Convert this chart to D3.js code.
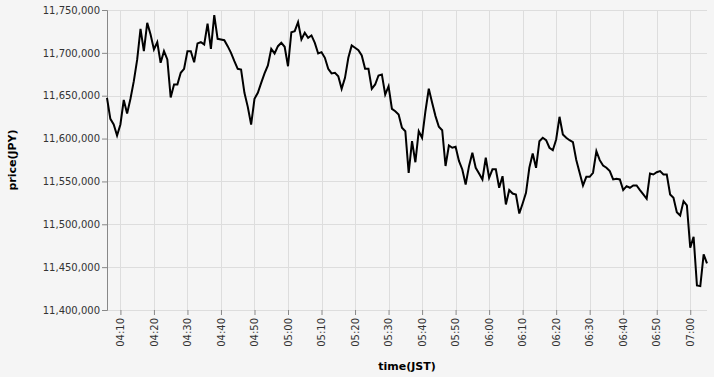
<!DOCTYPE html>
<html>
<head>
<meta charset="utf-8">
<script src="https://cdn.jsdelivr.net/npm/d3@7"></script>
<style>
  html, body { margin: 0; padding: 0; background: #f5f5f5; }
  svg { display: block; font-family: "DejaVu Sans", sans-serif; }
</style>
</head>
<body>
<svg id="chart" width="714" height="377"></svg>
<script>
// ---- data ----
const startTime = "04:06";   // first sample, samples are one minute apart
const prices = [
  11647500, 11623000, 11616400, 11603600, 11616500, 11645000, 11629300, 11646400, 11667000, 11692000,
  11728000, 11702000, 11735000, 11721400, 11704000, 11712400, 11688400, 11702000, 11692300, 11648000,
  11663000, 11663000, 11676700, 11681400, 11702000, 11702000, 11689100, 11711000, 11712400, 11709800,
  11734200, 11704700, 11744000, 11716400, 11715600, 11714800, 11707800, 11700000, 11690300, 11681400,
  11680600, 11653400, 11637000, 11616400, 11646400, 11653400, 11665000, 11676000, 11685300, 11704700,
  11699300, 11707800, 11711700, 11707100, 11684400, 11724100, 11725300, 11735800, 11715600, 11723400,
  11717600, 11720300, 11711700, 11699300, 11700800, 11694200, 11681400, 11676000, 11676700, 11672800,
  11658100, 11670900, 11694200, 11708600, 11705900, 11703100, 11696900, 11681400, 11681400, 11658100,
  11663100, 11673600, 11674800, 11651400, 11661100, 11634700, 11631900, 11628100, 11612600, 11608600,
  11560000, 11596900, 11572400, 11608600, 11600900, 11631900, 11658100, 11641700, 11626200, 11613700,
  11609800, 11568000, 11591900, 11589300, 11590400, 11574000, 11564000, 11546400, 11567800, 11583400,
  11565900, 11559300, 11552300, 11577600, 11554200, 11564100, 11564100, 11542600, 11556100, 11523100,
  11539900, 11535900, 11534800, 11512600, 11524300, 11536700, 11565900, 11582600, 11565900, 11596900,
  11600900, 11598100, 11589300, 11586400, 11598900, 11625400, 11604800, 11600900, 11598100, 11595800,
  11575000, 11560000, 11545300, 11555400, 11555400, 11560100, 11585300, 11574800, 11568600, 11565900,
  11562000, 11552300, 11553100, 11552300, 11539900, 11544500, 11542600, 11545300, 11545300, 11539900,
  11534800, 11529800, 11559300, 11558100, 11560800, 11562000, 11558100, 11558100, 11534800, 11530900,
  11514100, 11510300, 11527000, 11522000, 11472600, 11485400, 11428600, 11427800, 11464800, 11454300
];
const yTicks = [11400000, 11450000, 11500000, 11550000, 11600000, 11650000, 11700000, 11750000];
const xTickLabels = ["04:10","04:20","04:30","04:40","04:50","05:00","05:10","05:20","05:30",
                     "05:40","05:50","06:00","06:10","06:20","06:30","06:40","06:50","07:00"];
const xTitle = "time(JST)";
const yTitle = "price(JPY)";

// ---- build table ----
const parseHM = d3.timeParse("%H:%M");
const t0 = parseHM(startTime);
const data = prices.map((p, i) => ({ t: d3.timeMinute.offset(t0, i), price: p }));

// ---- layout ----
const margin = { left: 107, top: 10, right: 7, bottom: 67 };
const W = 714, H = 377;
const w = W - margin.left - margin.right;
const h = H - margin.top - margin.bottom;

const svg = d3.select("#chart");
const g = svg.append("g").attr("transform", `translate(${margin.left},${margin.top})`);

const x = d3.scaleTime().domain(d3.extent(data, d => d.t)).range([0, w]);
const y = d3.scaleLinear().domain([yTicks[0], yTicks[yTicks.length - 1]]).range([h, 0]);

const xTickVals = xTickLabels.map(parseHM);
const fmtHM = d3.timeFormat("%H:%M");

// grid
g.append("g").attr("class", "ygrid")
  .selectAll("line").data(yTicks).join("line")
  .attr("x1", 0).attr("x2", w)
  .attr("y1", d => Math.round(y(d)) + 0.5).attr("y2", d => Math.round(y(d)) + 0.5)
  .attr("stroke", "#ddd").attr("stroke-width", 1);
g.append("g").attr("class", "xgrid")
  .selectAll("line").data(xTickVals).join("line")
  .attr("x1", d => Math.round(x(d)) + 0.5).attr("x2", d => Math.round(x(d)) + 0.5)
  .attr("y1", 0).attr("y2", h)
  .attr("stroke", "#ddd").attr("stroke-width", 1);

// axes
const yAxis = g.append("g")
  .call(d3.axisLeft(y).tickValues(yTicks).tickFormat(d3.format(",")).tickSize(5).tickPadding(2));
yAxis.select(".domain").attr("stroke", "#888");
yAxis.selectAll(".tick line").attr("stroke", "#888");
yAxis.selectAll(".tick text").attr("fill", "#333").attr("font-size", 10)
  .attr("font-family", "DejaVu Sans, sans-serif");

const xAxis = g.append("g").attr("transform", `translate(0,${h})`)
  .call(d3.axisBottom(x).tickValues(xTickVals).tickFormat(fmtHM).tickSize(5).tickSizeOuter(0));
xAxis.select(".domain").remove();
xAxis.selectAll(".tick line").attr("stroke", "#888");
xAxis.selectAll(".tick text")
  .attr("fill", "#333").attr("font-size", 10).attr("font-family", "DejaVu Sans, sans-serif")
  .attr("transform", "rotate(-90)")
  .attr("x", -8).attr("y", 0).attr("dy", "0.32em")
  .attr("text-anchor", "end");

// line
g.append("path").datum(data)
  .attr("fill", "none").attr("stroke", "#000").attr("stroke-width", 2)
  .attr("stroke-linejoin", "miter")
  .attr("d", d3.line().x(d => x(d.t)).y(d => y(d.price)));

// titles
svg.append("text")
  .attr("x", margin.left + w / 2).attr("y", 370)
  .attr("text-anchor", "middle").attr("font-size", 11).attr("font-weight", "bold")
  .attr("fill", "#000").text(xTitle);
svg.append("text")
  .attr("transform", `translate(16,${margin.top + h / 2}) rotate(-90)`)
  .attr("text-anchor", "middle").attr("font-size", 11).attr("font-weight", "bold")
  .attr("fill", "#000").text(yTitle);
</script>
</body>
</html>
